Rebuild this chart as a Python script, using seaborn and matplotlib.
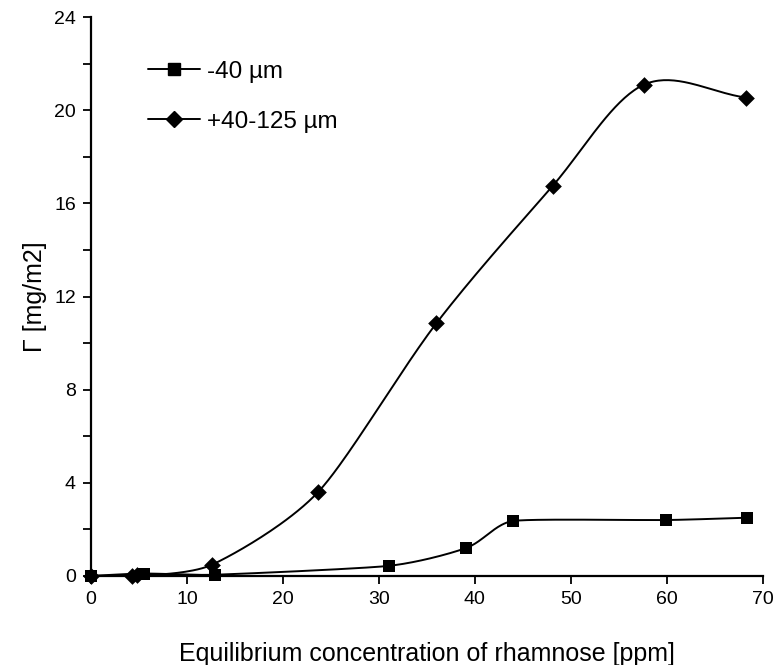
import numpy as np
import pandas as pd
import seaborn as sns
import matplotlib.pyplot as plt
from matplotlib.ticker import MultipleLocator

# values
fine_x = [0, 5.5, 12.9, 31.0, 39.1, 44.0, 59.9, 68.4]
fine_y = [0, 0.1, 0.05, 0.43, 1.2, 2.36, 2.4, 2.5]

coarse_x = [0, 4.3, 4.8, 12.6, 23.7, 36.0, 48.1, 57.6, 68.3]
coarse_y = [0, 0, 0.02, 0.48, 3.62, 10.86, 16.75, 21.1, 20.55]

labels = ["-40 µm", "+40-125 µm"]


def smooth(xs, ys, n=40, sx=9.6, sy=23.3):
    # Excel-like smoothed line: Bezier segments, handle length set by the shorter chord
    p = np.column_stack([np.array(xs) * sx, np.array(ys) * sy]).astype(float)
    k = len(p)
    d = np.linalg.norm(np.diff(p, axis=0), axis=1)

    def tangent(i):
        if i == 0:
            v = p[1] - p[0]
            return v / np.linalg.norm(v), d[0] / 3
        if i == k - 1:
            v = p[-1] - p[-2]
            return v / np.linalg.norm(v), d[-1] / 3
        v = p[i + 1] - p[i - 1]
        return v / np.linalg.norm(v), min(d[i - 1], d[i]) / 3

    out = []
    for i in range(k - 1):
        u1, l1 = tangent(i)
        u2, l2 = tangent(i + 1)
        c1 = p[i] + u1 * l1
        c2 = p[i + 1] - u2 * l2
        t = np.linspace(0, 1, n)[:, None]
        seg = (1 - t) ** 3 * p[i] + 3 * (1 - t) ** 2 * t * c1 + 3 * (1 - t) * t ** 2 * c2 + t ** 3 * p[i + 1]
        out.append(seg)
    out = np.vstack(out)
    return out[:, 0] / sx, out[:, 1] / sy


sns.set_style("ticks")
plt.rcParams["font.family"] = ["Liberation Sans", "DejaVu Sans"]
plt.rcParams["text.color"] = "black"
plt.rcParams["axes.labelcolor"] = "black"
plt.rcParams["xtick.color"] = "black"
plt.rcParams["ytick.color"] = "black"

fig = plt.figure(figsize=(7.79, 6.65), dpi=100)
ax = fig.add_axes([0.117, 0.134, 0.862, 0.84])

for xs, ys, mk, ms, lab in [(fine_x, fine_y, "s", 9, labels[0]),
                            (coarse_x, coarse_y, "D", 8.5, labels[1])]:
    cx, cy = smooth(xs, ys)
    curve = pd.DataFrame({"x": cx, "y": cy})
    sns.lineplot(data=curve, x="x", y="y", sort=False, estimator=None,
                 color="black", linewidth=1.4, ax=ax)
    pts = pd.DataFrame({"x": xs, "y": ys})
    sns.scatterplot(data=pts, x="x", y="y", marker=mk, s=ms ** 2,
                    color="black", edgecolor="black", linewidth=0, ax=ax, zorder=3)
    # legend entry
    ax.plot([], [], color="black", marker=mk, markersize=ms,
            linewidth=1.4, label=lab)

ax.set_xlim(0, 70)
ax.set_ylim(0, 24)
ax.xaxis.set_major_locator(MultipleLocator(10))
ax.yaxis.set_major_locator(MultipleLocator(4))
ax.yaxis.set_minor_locator(MultipleLocator(2))
ax.tick_params(axis="both", which="major", length=6, width=1.3,
               labelsize=14, direction="out", pad=5)
ax.tick_params(axis="y", which="minor", length=6, width=1.3)
for s in ["left", "bottom"]:
    ax.spines[s].set_linewidth(1.6)
    ax.spines[s].set_color("black")
sns.despine(ax=ax)

ax.set_xlabel("Equilibrium concentration of rhamnose [ppm]", fontsize=18, labelpad=24)
ax.set_ylabel("Γ [mg/m2]", fontsize=18, labelpad=5)

ax.legend(loc="upper left", bbox_to_anchor=(0.07, 0.94), frameon=False,
          fontsize=17.5, handlelength=2.15, labelspacing=1.15, handletextpad=0.3,
          borderaxespad=0)

for c in ax.collections:
    c.set_clip_on(False)

fig.savefig("out.png", dpi=100)
